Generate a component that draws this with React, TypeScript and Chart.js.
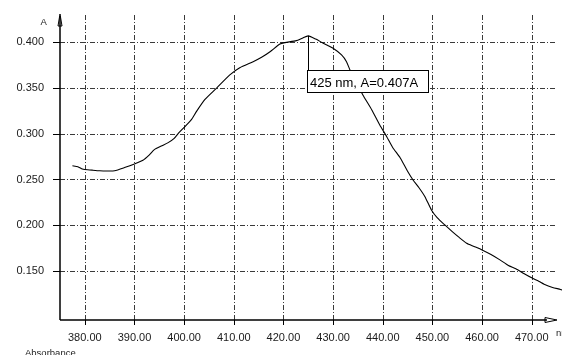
import { useEffect, useRef } from "react";
import { Chart, registerables } from "chart.js";

Chart.register(...registerables);

// Absorption spectrum: wavelength (nm) vs absorbance (A)
const wavelengths = [
  377.5, 378.6, 379.5, 380, 381.5, 383, 384.5, 386, 388, 390, 391.7, 393, 394,
  395.4, 396.7, 398, 399, 400, 401.5, 402.5, 404.2, 406.5, 409.2, 411.2, 413.9,
  415.6, 417.3, 419.3, 420.3, 422.6, 423.8, 425, 426.5, 428, 430, 431.7, 432.7,
  433.4, 434.7, 436, 437.8, 439.4, 440.8, 442, 443.5, 445, 446.1, 447.3, 448.5,
  449.8, 451, 452.5, 454, 455.2, 456.9, 458.4, 460, 461.8, 463.6, 465.3, 466.8,
  468.5, 470, 471.5, 472.5, 474.2, 475.8, 476.5,
];
const absorbance = [
  0.265, 0.264, 0.2615, 0.261, 0.2602, 0.2595, 0.2593, 0.2595, 0.263, 0.267,
  0.271, 0.277, 0.2826, 0.2865, 0.29, 0.295, 0.3015, 0.307, 0.3158, 0.3245,
  0.3375, 0.3497, 0.3643, 0.3722, 0.3788, 0.3836, 0.3897, 0.3981, 0.3996,
  0.4018, 0.4045, 0.407, 0.4035, 0.399, 0.3934, 0.3861, 0.3788, 0.3697, 0.356,
  0.3424, 0.326, 0.3096, 0.2968, 0.285, 0.2738, 0.259, 0.2495, 0.241, 0.2312,
  0.2167, 0.208, 0.2003, 0.193, 0.1875, 0.1803, 0.1768, 0.173, 0.168, 0.1621,
  0.156, 0.1525, 0.147, 0.1425, 0.1385, 0.1355, 0.132, 0.1298, 0.1285,
];

const xTicks = [380, 390, 400, 410, 420, 430, 440, 450, 460, 470];
const yTicks = [0.15, 0.2, 0.25, 0.3, 0.35, 0.4];

const peakNm = 425;
const peakA = 0.407;

const FONT = '"Liberation Sans", Arial, Helvetica, sans-serif';

// Dash-dot grid, axis lines with open arrowheads, peak marker and axis captions
const framePlugin = {
  id: "frame",
  beforeDatasetsDraw(chart: any) {
    const { ctx, chartArea, scales } = chart;
    const { left, top, right, bottom } = chartArea;
    const xs = scales.x;
    const ys = scales.y;
    const axisEnd = right - 5;

    ctx.save();
    ctx.lineWidth = 1;
    ctx.strokeStyle = "#3a3a3a";
    ctx.setLineDash([5, 2, 1, 2]);
    for (const v of xTicks) {
      const px = Math.round(xs.getPixelForValue(v)) + 0.5;
      ctx.beginPath();
      ctx.moveTo(px, top + 1);
      ctx.lineTo(px, bottom);
      ctx.stroke();
    }
    for (const v of yTicks) {
      const py = Math.round(ys.getPixelForValue(v)) + 0.5;
      ctx.beginPath();
      ctx.moveTo(left, py);
      ctx.lineTo(axisEnd, py);
      ctx.stroke();
    }

    // tick marks
    ctx.setLineDash([]);
    ctx.strokeStyle = "#000";
    for (const v of xTicks) {
      const px = Math.round(xs.getPixelForValue(v)) + 0.5;
      ctx.beginPath();
      ctx.moveTo(px, bottom);
      ctx.lineTo(px, bottom + 5);
      ctx.stroke();
    }
    for (const v of yTicks) {
      const py = Math.round(ys.getPixelForValue(v)) + 0.5;
      ctx.beginPath();
      ctx.moveTo(left - 7, py);
      ctx.lineTo(left, py);
      ctx.stroke();
    }

    // axis lines
    ctx.lineWidth = 1.5;
    ctx.beginPath();
    ctx.moveTo(left, bottom);
    ctx.lineTo(left, top + 2);
    ctx.moveTo(left, bottom);
    ctx.lineTo(axisEnd - 10, bottom);
    ctx.stroke();

    // open arrowheads
    ctx.lineWidth = 1;
    ctx.beginPath();
    ctx.moveTo(left, top);
    ctx.lineTo(left - 2, top + 12);
    ctx.lineTo(left + 2, top + 12);
    ctx.closePath();
    ctx.stroke();
    ctx.beginPath();
    ctx.moveTo(axisEnd, bottom);
    ctx.lineTo(axisEnd - 12, bottom - 2.5);
    ctx.lineTo(axisEnd - 12, bottom + 2.5);
    ctx.closePath();
    ctx.stroke();
    ctx.restore();
  },
  afterDatasetsDraw(chart: any) {
    const { ctx, chartArea, scales } = chart;
    const { left, top, right, bottom } = chartArea;
    const px = Math.round(scales.x.getPixelForValue(peakNm)) + 0.5;
    const py = scales.y.getPixelForValue(peakA);

    const boxX = px - 1;
    const boxY = top + 56.5;
    const boxW = 121;
    const boxH = 22;

    ctx.save();
    ctx.strokeStyle = "#000";
    ctx.lineWidth = 1;
    ctx.beginPath();
    ctx.moveTo(px, py);
    ctx.lineTo(px, boxY);
    ctx.stroke();

    ctx.fillStyle = "#fff";
    ctx.fillRect(boxX, boxY, boxW, boxH);
    ctx.strokeRect(boxX, boxY, boxW, boxH);

    ctx.fillStyle = "#000";
    ctx.font = `13px ${FONT}`;
    ctx.textBaseline = "alphabetic";
    ctx.textAlign = "left";
    ctx.fillText(`${peakNm} nm, A=${peakA.toFixed(3)}A`, boxX + 2.5, boxY + 16.5);

    // axis captions
    ctx.fillStyle = "#222";
    ctx.font = `9.5px ${FONT}`;
    ctx.fillText("A", left - 19.5, top + 10.5);
    ctx.fillText("nm", right - 6, bottom + 16);
    ctx.fillText("Absorbance", 25, bottom + 36);
    ctx.restore();
  },
};

export default function App() {
  const canvasRef = useRef<HTMLCanvasElement | null>(null);

  useEffect(() => {
    const canvas = canvasRef.current;
    if (!canvas) return;

    const points = wavelengths.map((w, i) => ({ x: w, y: absorbance[i] }));

    const chart = new Chart(canvas, {
      type: "line",
      data: {
        datasets: [
          {
            data: points,
            borderColor: "#000",
            borderWidth: 1.1,
            pointRadius: 0,
            tension: 0.2,
            fill: false,
          },
        ],
      },
      options: {
        responsive: false,
        animation: false,
        devicePixelRatio: 1,
        layout: { padding: { top: 14, right: 0, bottom: 0, left: 0 } },
        plugins: {
          legend: { display: false },
          tooltip: { enabled: false },
        },
        scales: {
          x: {
            type: "linear",
            min: 375,
            max: 476.1,
            grid: { display: false, drawTicks: false },
            border: { display: false },
            afterBuildTicks: (axis: any) => {
              axis.ticks = xTicks.map((v) => ({ value: v }));
            },
            afterFit: (axis: any) => {
              axis.height = 35;
              axis.paddingLeft = 0;
              axis.paddingRight = 0;
            },
            ticks: {
              autoSkip: false,
              maxRotation: 0,
              padding: 11,
              color: "#1a1a1a",
              font: { family: FONT, size: 11 },
              callback: (v: any) => Number(v).toFixed(2),
            },
          },
          y: {
            type: "linear",
            min: 0.0964,
            max: 0.4309,
            grid: { display: false, drawTicks: false },
            border: { display: false },
            afterBuildTicks: (axis: any) => {
              axis.ticks = yTicks.map((v) => ({ value: v }));
            },
            afterFit: (axis: any) => {
              axis.width = 60;
              axis.paddingTop = 0;
              axis.paddingBottom = 0;
            },
            ticks: {
              autoSkip: false,
              padding: 16,
              color: "#1a1a1a",
              font: { family: FONT, size: 11 },
              callback: (v: any) => Number(v).toFixed(3),
            },
          },
        },
      },
      plugins: [framePlugin],
    });

    return () => chart.destroy();
  }, []);

  return (
    <div style={{ position: "fixed", left: 0, top: 0, width: 562, height: 355, background: "#fff" }}>
      <canvas ref={canvasRef} width={562} height={355} style={{ display: "block" }} />
    </div>
  );
}
